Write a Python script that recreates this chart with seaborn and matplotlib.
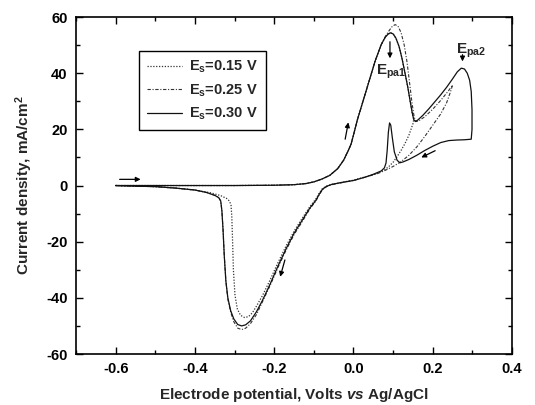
import matplotlib
matplotlib.use("Agg")
import matplotlib.pyplot as plt
import seaborn as sns
import pandas as pd
from matplotlib.ticker import MultipleLocator, FormatStrFormatter

# ---------------- data ----------------
# common forward (anodic) scan from -0.6 V up to ~0.04 V
fwd_pot = [-0.6, -0.5, -0.4, -0.3, -0.2, -0.15, -0.12, -0.1, -0.08, -0.06, -0.04,
           -0.025, -0.013, -0.006, 0.0, 0.01, 0.025, 0.04]
fwd_cur = [0.0, 0.0, 0.0, 0.0, 0.1, 0.3, 0.7, 1.3, 2.3, 3.6, 6.0,
           9.0, 12.5, 14.8, 18.0, 23.5, 30.5, 37.5]

# Es = 0.30 V (solid)
p30_pot = [0.055, 0.07, 0.08, 0.087, 0.093, 0.1, 0.107, 0.115, 0.122, 0.13, 0.137,
           0.143, 0.148, 0.152, 0.156, 0.162, 0.175, 0.19, 0.205, 0.22, 0.235, 0.25,
           0.262, 0.272, 0.28, 0.287, 0.293, 0.297, 0.299, 0.299, 0.297,
           0.28, 0.26, 0.24, 0.22, 0.2, 0.18, 0.16, 0.14, 0.125, 0.117, 0.11, 0.103,
           0.098, 0.094, 0.091, 0.088, 0.085, 0.082, 0.078, 0.07, 0.05, 0.03, 0.0,
           -0.03, -0.055, -0.068, -0.078, -0.086, -0.095, -0.11, -0.13, -0.15, -0.17,
           -0.19, -0.21, -0.23, -0.245, -0.26, -0.272, -0.282, -0.292, -0.302, -0.31,
           -0.317, -0.322, -0.326, -0.329, -0.332, -0.335, -0.34, -0.35, -0.37, -0.4,
           -0.45, -0.5, -0.6]
p30_cur = [44.5, 50.2, 52.8, 53.9, 54.4, 54.0, 52.5, 49.5, 45.5, 40.0, 35.0,
           30.0, 26.0, 23.5, 22.8, 23.3, 25.0, 27.3, 29.8, 32.3, 35.0, 38.0,
           40.5, 41.8, 41.5, 40.0, 37.5, 33.5, 27.0, 20.0, 16.5,
           16.3, 16.2, 16.0, 15.3, 14.0, 12.5, 10.8, 9.3, 8.4, 8.1, 9.0, 12.0,
           17.0, 21.5, 22.3, 19.0, 12.5, 8.0, 6.3, 5.2, 4.0, 3.0, 1.8,
           1.1, 0.4, -0.3, -1.3, -3.0, -5.3, -8.0, -12.5, -17.0, -22.5,
           -28.5, -35.0, -41.0, -45.0, -48.2, -49.6, -50.0, -49.5, -47.5, -44.5,
           -40.0, -34.0, -25.0, -16.0, -9.0, -5.5, -4.3, -3.5, -2.5, -1.6,
           -0.9, -0.4, 0.0]

# Es = 0.25 V (dash-dot)
p25_pot = [0.055, 0.07, 0.08, 0.09, 0.098, 0.105, 0.112, 0.12, 0.128, 0.135, 0.142,
           0.148, 0.153, 0.157, 0.163, 0.18, 0.2, 0.22, 0.24, 0.25,
           0.245, 0.235, 0.22, 0.2, 0.18, 0.16, 0.14, 0.12, 0.1, 0.08, 0.06, 0.03,
           0.0, -0.03, -0.055, -0.068, -0.078, -0.086, -0.095, -0.11, -0.13, -0.15,
           -0.17, -0.19, -0.21, -0.23, -0.245, -0.26, -0.272, -0.282, -0.292, -0.302,
           -0.31, -0.317, -0.322, -0.326, -0.329, -0.332, -0.335, -0.34, -0.35, -0.37,
           -0.4, -0.45, -0.5, -0.6]
p25_cur = [44.5, 50.2, 53.0, 55.2, 56.7, 57.3, 56.8, 54.5, 50.0, 44.0, 36.0,
           29.0, 24.5, 22.8, 22.9, 24.5, 27.2, 30.3, 33.8, 35.8,
           33.5, 29.5, 25.5, 21.5, 17.5, 13.8, 10.8, 8.5, 6.8, 5.4, 4.2, 3.0,
           1.8, 1.0, 0.3, -0.4, -1.4, -3.2, -5.5, -8.3, -13.0, -17.5,
           -23.0, -29.0, -35.5, -41.5, -46.0, -49.2, -50.8, -51.3, -50.8, -48.5,
           -45.0, -40.5, -34.0, -25.0, -16.0, -9.0, -5.5, -4.3, -3.5, -2.5,
           -1.6, -0.9, -0.4, 0.0]

# Es = 0.15 V (dotted)
p15_pot = [0.055, 0.07, 0.08, 0.087, 0.093, 0.1, 0.107, 0.115, 0.122, 0.13, 0.137,
           0.143, 0.148, 0.152,
           0.15, 0.145, 0.14, 0.13, 0.12, 0.11, 0.1, 0.09, 0.08, 0.06, 0.03, 0.0,
           -0.03, -0.055, -0.068, -0.078, -0.086, -0.095, -0.11, -0.13, -0.15, -0.17,
           -0.19, -0.21, -0.23, -0.245, -0.255, -0.265, -0.275, -0.285, -0.293, -0.299,
           -0.303, -0.305, -0.307, -0.309, -0.313, -0.32, -0.335, -0.36, -0.4, -0.45,
           -0.5, -0.6]
p15_cur = [44.5, 50.2, 52.8, 53.9, 54.4, 54.0, 52.5, 49.5, 45.5, 40.0, 35.0,
           30.0, 26.0, 23.5,
           22.0, 20.0, 18.0, 15.0, 12.5, 10.3, 8.3, 6.9, 5.7, 4.3, 3.1, 1.9,
           1.1, 0.4, -0.2, -1.0, -2.6, -4.8, -7.5, -11.8, -16.3, -21.5,
           -27.3, -33.5, -39.3, -43.0, -45.3, -46.7, -47.0, -46.2, -44.0, -39.0,
           -30.0, -20.0, -11.0, -7.0, -5.5, -4.6, -3.6, -2.6, -1.6, -0.9,
           -0.4, 0.0]

series_labels = [r"E$_{\rm s}$=0.15 V", r"E$_{\rm s}$=0.25 V", r"E$_{\rm s}$=0.30 V"]
x_label = r"Electrode potential, Volts $\mathit{vs}$ Ag/AgCl"
y_label = r"Current density, mA/cm$^{\rm 2}$"

# ---------------- style ----------------
sns.set_theme(style="ticks")
plt.rcParams["font.family"] = ["Liberation Sans", "DejaVu Sans"]
plt.rcParams["font.weight"] = "bold"
plt.rcParams["axes.labelweight"] = "bold"
plt.rcParams["axes.unicode_minus"] = False
plt.rcParams["mathtext.fontset"] = "custom"
plt.rcParams["mathtext.rm"] = "Liberation Sans:bold"
plt.rcParams["mathtext.bf"] = "Liberation Sans:bold"
plt.rcParams["mathtext.it"] = "Liberation Sans:bold:italic"
plt.rcParams["mathtext.default"] = "rm"

fig = plt.figure(figsize=(5.35, 4.05), dpi=100)
ax = fig.add_axes([0.1421, 0.1259, 0.815, 0.832])

curves = [
    (fwd_pot + p15_pot, fwd_cur + p15_cur, series_labels[0], (0, (1.0, 1.3)), "#333333", 0.9),
    (fwd_pot + p25_pot, fwd_cur + p25_cur, series_labels[1], (0, (3.0, 1.5, 1.0, 1.5)), "#333333", 0.8),
    (fwd_pot + p30_pot, fwd_cur + p30_cur, series_labels[2], "-", "#111111", 0.9),
]
for pot, cur, lab, ls, col, lw in curves:
    df = pd.DataFrame({"pot": pot, "cur": cur})
    sns.lineplot(data=df, x="pot", y="cur", sort=False, estimator=None, ax=ax,
                 color=col, linewidth=lw, linestyle=ls, label=lab)

ax.set_xlim(-0.7, 0.4)
ax.set_ylim(-60, 60)
ax.xaxis.set_major_locator(MultipleLocator(0.2))
ax.xaxis.set_minor_locator(MultipleLocator(0.1))
ax.yaxis.set_major_locator(MultipleLocator(20))
ax.yaxis.set_minor_locator(MultipleLocator(10))
ax.xaxis.set_major_formatter(FormatStrFormatter("%.1f"))
ax.tick_params(which="both", direction="in", top=True, right=True, colors="black",
               labelsize=10.5, width=1.0)
ax.tick_params(which="major", length=5, pad=6)
ax.tick_params(which="minor", length=3)
for s in ax.spines.values():
    s.set_linewidth(1.2)
    s.set_color("black")

ax.set_xlabel(x_label, fontsize=11, labelpad=7)
ax.set_ylabel(y_label, fontsize=11, labelpad=8)

leg = ax.legend(loc="upper left", bbox_to_anchor=(0.128, 0.922), fontsize=10.5,
                handlelength=2.4, labelspacing=0.5, borderpad=0.55,
                fancybox=False, frameon=True, edgecolor="black", framealpha=1,
                handletextpad=0.5)
leg.get_frame().set_linewidth(1.0)

# annotations
ax.text(0.057, 40.5, r"E$_{\rm pa1}$", fontsize=11, va="center", ha="left")
ax.text(0.258, 48.0, r"E$_{\rm pa2}$", fontsize=11, va="center", ha="left")
arrow_kw = dict(arrowstyle="-|>", color="black", lw=0.9, mutation_scale=7,
                shrinkA=0, shrinkB=0)
ax.annotate("", xy=(0.092, 45.3), xytext=(0.092, 51.2), arrowprops=arrow_kw)
ax.annotate("", xy=(0.275, 44.2), xytext=(0.275, 46.6), arrowprops=arrow_kw)
ax.annotate("", xy=(-0.537, 2.2), xytext=(-0.59, 2.2), arrowprops=arrow_kw)
ax.annotate("", xy=(-0.013, 22.5), xytext=(-0.021, 16.5), arrowprops=arrow_kw)
ax.annotate("", xy=(0.171, 10.0), xytext=(0.206, 12.4), arrowprops=arrow_kw)
ax.annotate("", xy=(-0.185, -32.5), xytext=(-0.173, -26.5), arrowprops=arrow_kw)

fig.savefig("out.png", dpi=100)
